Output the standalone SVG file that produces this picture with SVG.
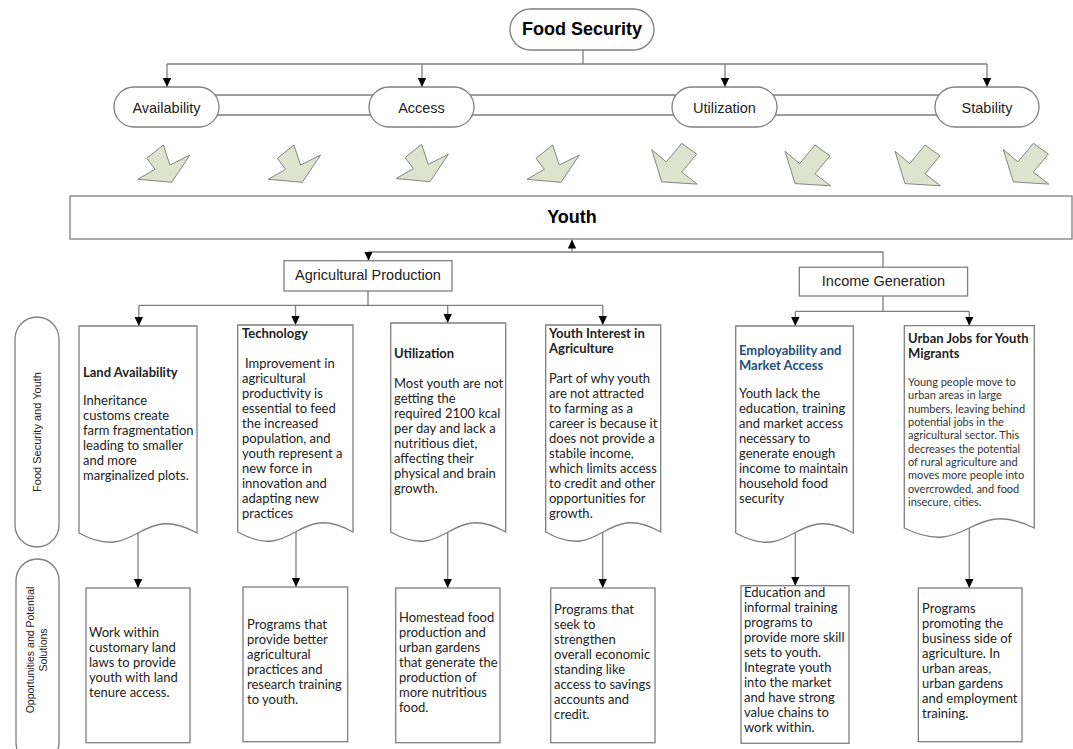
<svg xmlns="http://www.w3.org/2000/svg" width="1073" height="749" viewBox="0 0 1073 749">
<style>
.ln{stroke:#7f7f7f;stroke-width:1.3;fill:none}
.ar{stroke:#7f7f7f;stroke-width:1.3;fill:none;marker-end:url(#ah)}
.bx{fill:#fff;stroke:#7f7f7f;stroke-width:1.3}
.blk{fill:#dde3cc;stroke:#858585;stroke-width:1}
.t1{font-family:"Liberation Sans",Arial,sans-serif;font-size:14.5px;fill:#222;text-anchor:middle}
.tb{font-family:"Liberation Sans",Arial,sans-serif;font-size:18px;font-weight:bold;fill:#000;text-anchor:middle}
.side{font-family:"Liberation Sans",Arial,sans-serif;font-size:11px;fill:#222;text-anchor:middle}
.side2{font-family:"Liberation Sans",Arial,sans-serif;font-size:10.5px;fill:#222;text-anchor:middle}
.h{font-family:Lato,"Liberation Sans",sans-serif;font-size:13px;font-weight:bold;fill:#222}
.hb{font-family:Lato,"Liberation Sans",sans-serif;font-size:13px;font-weight:bold;fill:#1f4e79}
.b{font-family:Lato,"Liberation Sans",sans-serif;font-size:13px;fill:#222}
.s{font-family:Lato,"Liberation Sans",sans-serif;font-size:11px;fill:#333}
</style>
<defs>
<marker id="ah" markerWidth="10" markerHeight="10" refX="9" refY="4.5" orient="auto" markerUnits="userSpaceOnUse"><path d="M0,0.3 L9,4.5 L0,8.7 Z" fill="#000"/></marker>
<polygon id="dr" points="9,13.3 25.6,0 32.3,20 52.3,10 34,37.3 0,34.3 17.3,24.3"/>
<polygon id="dl" points="0,6.2 10,38.6 45.5,40.8 30,28.8 45,10.8 30,0 14.6,18.6"/>
</defs>

<g id="connectors">
<path class="ln" d="M167,95 H987 M167,115 H987"/>
<path class="ln" d="M583,50 V64 M167,64 H987"/>
<path class="ar" d="M167,64 V87"/>
<path class="ar" d="M422,64 V87"/>
<path class="ar" d="M725,64 V87"/>
<path class="ar" d="M987,64 V87"/>
<path class="ln" d="M368.5,252 H883 V267.2"/>
<path class="ar" d="M368.5,252 V260.7"/>
<path class="ar" d="M572,252 V239.5"/>
<path class="ln" d="M368,291 V305.4 M138.8,305.4 H602.8"/>
<path class="ar" d="M138.8,305.4 V326"/>
<path class="ar" d="M295.5,305.4 V325"/>
<path class="ar" d="M447.7,305.4 V323"/>
<path class="ar" d="M602.8,305.4 V325"/>
<path class="ln" d="M883,296 V311.4 M795.3,311.4 H969.3"/>
<path class="ar" d="M795.3,311.4 V326"/>
<path class="ar" d="M969.3,311.4 V325.7"/>
<path class="ar" d="M138,533 V588"/>
<path class="ar" d="M296,532 V587"/>
<path class="ar" d="M447.7,532 V588"/>
<path class="ar" d="M602.7,532 V588"/>
<path class="ar" d="M795.3,533 V585.7"/>
<path class="ar" d="M969.3,528 V588"/>
</g>

<g id="food-security"><rect class="bx" x="510" y="9" width="144" height="41" rx="20.5"/><text class="tb" x="582" y="35">Food Security</text></g>
<g id="availability"><rect class="bx" x="114" y="87" width="105" height="40" rx="20"/><text class="t1" x="166.5" y="113">Availability</text></g>
<g id="access"><rect class="bx" x="369" y="87" width="105" height="40" rx="20"/><text class="t1" x="421.5" y="113">Access</text></g>
<g id="utilization"><rect class="bx" x="672" y="87" width="105" height="40" rx="20"/><text class="t1" x="724.5" y="113">Utilization</text></g>
<g id="stability"><rect class="bx" x="935" y="87" width="104" height="40" rx="20"/><text class="t1" x="987" y="113">Stability</text></g>

<g id="block-arrows">
<use href="#dr" class="blk" x="137.7" y="145"/>
<use href="#dr" class="blk" x="268.3" y="145"/>
<use href="#dr" class="blk" x="396" y="144.3"/>
<use href="#dr" class="blk" x="527" y="145"/>
<use href="#dl" class="blk" x="651.7" y="143.3"/>
<use href="#dl" class="blk" x="785" y="145"/>
<use href="#dl" class="blk" x="895" y="145"/>
<use href="#dl" class="blk" x="1003.3" y="143.3"/>
</g>

<g id="youth"><rect class="bx" x="70" y="196" width="1002" height="43"/><text class="tb" x="572" y="223">Youth</text></g>

<g id="agri-production"><rect class="bx" x="284" y="260.7" width="168" height="30.3"/><text class="t1" x="368" y="280">Agricultural Production</text></g>
<g id="income-generation"><rect class="bx" x="799.3" y="267.2" width="168.3" height="28.8"/><text class="t1" x="883.5" y="286">Income Generation</text></g>

<g id="label-fsy"><rect class="bx" x="15" y="317" width="44" height="230" rx="22"/><text class="side" transform="translate(41,432) rotate(-90)">Food Security and Youth</text></g>
<g id="label-ops"><rect class="bx" x="16" y="559" width="43" height="205" rx="21.5"/><text class="side2" transform="translate(34,650) rotate(-90)">Opportunities and Potential</text><text class="side2" transform="translate(47,650) rotate(-90)">Solutions</text></g>

<g id="doc-land">
<path class="bx" d="M79,326 H197 V533 C138,501 138,565 79,533 Z"/>
<text class="h" x="83" y="377">Land Availability</text>
<text class="b"><tspan x="83" y="405">Inheritance</tspan><tspan x="83" y="420">customs create</tspan><tspan x="83" y="435">farm fragmentation</tspan><tspan x="83" y="450">leading to smaller</tspan><tspan x="83" y="465">and more</tspan><tspan x="83" y="480">marginalized plots.</tspan></text>
</g>
<g id="doc-technology">
<path class="bx" d="M237.7,325 H353 V532 C295.3,500 295.3,564 237.7,532 Z"/>
<text class="h" x="242" y="338">Technology</text>
<text class="b"><tspan x="245" y="368">Improvement in</tspan><tspan x="242" y="383">agricultural</tspan><tspan x="242" y="398">productivity is</tspan><tspan x="242" y="413">essential to feed</tspan><tspan x="242" y="428">the increased</tspan><tspan x="242" y="443">population, and</tspan><tspan x="242" y="458">youth represent a</tspan><tspan x="242" y="473">new force in</tspan><tspan x="242" y="488">innovation and</tspan><tspan x="242" y="503">adapting new</tspan><tspan x="242" y="518">practices</tspan></text>
</g>
<g id="doc-utilization">
<path class="bx" d="M390.7,323 H505.7 V532 C448.2,500 448.2,564 390.7,532 Z"/>
<text class="h" x="394" y="358">Utilization</text>
<text class="b"><tspan x="394" y="388">Most youth are not</tspan><tspan x="394" y="403">getting the</tspan><tspan x="394" y="418">required 2100 kcal</tspan><tspan x="394" y="433">per day and lack a</tspan><tspan x="394" y="448">nutritious diet,</tspan><tspan x="394" y="463">affecting their</tspan><tspan x="394" y="478">physical and brain</tspan><tspan x="394" y="493">growth.</tspan></text>
</g>
<g id="doc-interest">
<path class="bx" d="M545.7,325 H660.7 V532 C603.2,500 603.2,564 545.7,532 Z"/>
<text class="h"><tspan x="549" y="338">Youth Interest in</tspan><tspan x="549" y="353">Agriculture</tspan></text>
<text class="b"><tspan x="549" y="383">Part of why youth</tspan><tspan x="549" y="398">are not attracted</tspan><tspan x="549" y="413">to farming as a</tspan><tspan x="549" y="428">career is because it</tspan><tspan x="549" y="443">does not provide a</tspan><tspan x="549" y="458">stabile income,</tspan><tspan x="549" y="473">which limits access</tspan><tspan x="549" y="488">to credit and other</tspan><tspan x="549" y="503">opportunities for</tspan><tspan x="549" y="518">growth.</tspan></text>
</g>
<g id="doc-employability">
<path class="bx" d="M735.7,326 H853.3 V533 C794.5,501 794.5,565 735.7,533 Z"/>
<text class="hb"><tspan x="739" y="355">Employability and</tspan><tspan x="739" y="370">Market Access</tspan></text>
<text class="b"><tspan x="739" y="398">Youth lack the</tspan><tspan x="739" y="413">education, training</tspan><tspan x="739" y="428">and market access</tspan><tspan x="739" y="443">necessary to</tspan><tspan x="739" y="458">generate enough</tspan><tspan x="739" y="473">income to maintain</tspan><tspan x="739" y="488">household food</tspan><tspan x="739" y="503">security</tspan></text>
</g>
<g id="doc-urban">
<path class="bx" d="M904.3,325.7 H1034.3 V528 C969.3,496 969.3,560 904.3,528 Z"/>
<text class="h"><tspan x="908" y="343">Urban Jobs for Youth</tspan><tspan x="908" y="358">Migrants</tspan></text>
<text class="s"><tspan x="908" y="386">Young people move to</tspan><tspan x="908" y="399.3">urban areas in large</tspan><tspan x="908" y="412.7">numbers, leaving behind</tspan><tspan x="908" y="426">potential jobs in the</tspan><tspan x="908" y="439.3">agricultural sector. This</tspan><tspan x="908" y="452.7">decreases the potential</tspan><tspan x="908" y="466">of rural agriculture and</tspan><tspan x="908" y="479.3">moves more people into</tspan><tspan x="908" y="492.7">overcrowded, and food</tspan><tspan x="908" y="506">insecure, cities.</tspan></text>
</g>

<g id="sol-land"><rect class="bx" x="86" y="588" width="104" height="154.7"/>
<text class="b"><tspan x="89" y="637">Work within</tspan><tspan x="89" y="652">customary land</tspan><tspan x="89" y="667">laws to provide</tspan><tspan x="89" y="682">youth with land</tspan><tspan x="89" y="697">tenure access.</tspan></text></g>
<g id="sol-technology"><rect class="bx" x="243" y="587" width="104.7" height="154.7"/>
<text class="b"><tspan x="247" y="629">Programs that</tspan><tspan x="247" y="644">provide better</tspan><tspan x="247" y="659">agricultural</tspan><tspan x="247" y="674">practices and</tspan><tspan x="247" y="689">research training</tspan><tspan x="247" y="704">to youth.</tspan></text></g>
<g id="sol-utilization"><rect class="bx" x="395.7" y="588" width="104.3" height="154.7"/>
<text class="b"><tspan x="399" y="622">Homestead food</tspan><tspan x="399" y="637">production and</tspan><tspan x="399" y="652">urban gardens</tspan><tspan x="399" y="667">that generate the</tspan><tspan x="399" y="682">production of</tspan><tspan x="399" y="697">more nutritious</tspan><tspan x="399" y="712">food.</tspan></text></g>
<g id="sol-interest"><rect class="bx" x="550.7" y="588" width="104.3" height="154.7"/>
<text class="b"><tspan x="554" y="614">Programs that</tspan><tspan x="554" y="629">seek to</tspan><tspan x="554" y="644">strengthen</tspan><tspan x="554" y="659">overall economic</tspan><tspan x="554" y="674">standing like</tspan><tspan x="554" y="689">access to savings</tspan><tspan x="554" y="704">accounts and</tspan><tspan x="554" y="719">credit.</tspan></text></g>
<g id="sol-employability"><rect class="bx" x="741" y="585.7" width="108" height="157.6"/>
<text class="b"><tspan x="744" y="597">Education and</tspan><tspan x="744" y="612">informal training</tspan><tspan x="744" y="627">programs to</tspan><tspan x="744" y="642">provide more skill</tspan><tspan x="744" y="657">sets to youth.</tspan><tspan x="744" y="672">Integrate youth</tspan><tspan x="744" y="687">into the market</tspan><tspan x="744" y="702">and have strong</tspan><tspan x="744" y="717">value chains to</tspan><tspan x="744" y="732">work within.</tspan></text></g>
<g id="sol-urban"><rect class="bx" x="918.3" y="588" width="103.7" height="153.7"/>
<text class="b"><tspan x="922" y="613">Programs</tspan><tspan x="922" y="628">promoting the</tspan><tspan x="922" y="643">business side of</tspan><tspan x="922" y="658">agriculture. In</tspan><tspan x="922" y="673">urban areas,</tspan><tspan x="922" y="688">urban gardens</tspan><tspan x="922" y="703">and employment</tspan><tspan x="922" y="718">training.</tspan></text></g>
</svg>
